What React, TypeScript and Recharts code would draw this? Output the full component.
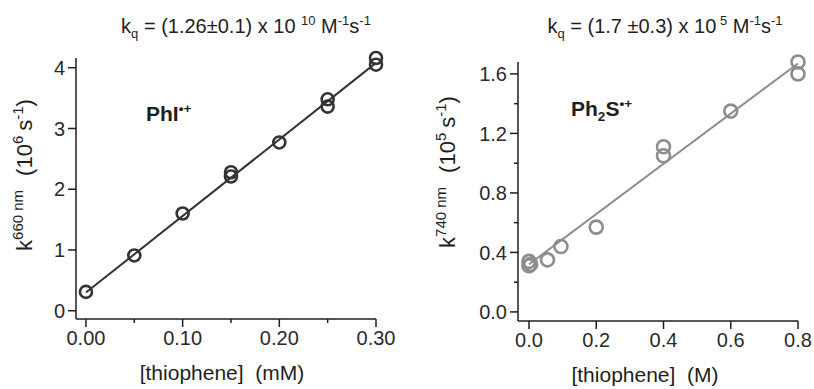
import React from "react";
import { ScatterChart, Scatter, XAxis, YAxis } from "recharts";

// left panel: PhI radical cation, k(660 nm) vs [thiophene] in mM
const phiConc = [0, 0.05, 0.1, 0.15, 0.15, 0.2, 0.25, 0.25, 0.3, 0.3];
const phiRate = [0.31, 0.91, 1.6, 2.21, 2.28, 2.77, 3.36, 3.48, 4.05, 4.16];
const phiFitConc = [0, 0.3];
const phiFitRate = [0.3, 4.08];
const phiXTicks = [0, 0.05, 0.1, 0.15, 0.2, 0.25, 0.3];
const phiXLabelled = [0, 0.1, 0.2, 0.3];
const phiYTicks = [0, 1, 2, 3, 4];

// right panel: Ph2S radical cation, k(740 nm) vs [thiophene] in M
const ph2sConc = [0, 0, 0.005, 0.055, 0.095, 0.2, 0.4, 0.4, 0.6, 0.8, 0.8];
const ph2sRate = [0.34, 0.31, 0.32, 0.35, 0.44, 0.57, 1.11, 1.05, 1.35, 1.68, 1.6];
const ph2sFitConc = [0, 0.8];
const ph2sFitRate = [0.32, 1.67];
const ph2sXTicks = [0, 0.2, 0.4, 0.6, 0.8];
const ph2sYTicks = [0, 0.2, 0.4, 0.6, 0.8, 1.0, 1.2, 1.4, 1.6];
const ph2sYLabelled = [0, 0.4, 0.8, 1.2, 1.6];

const FONT = "'Liberation Sans', Arial, Helvetica, sans-serif";
const INK = "#1e1e1e";
const TICK_SIZE = 8;
const TICK_MARGIN = 3;

const zip = (xs: number[], ys: number[]) => xs.map((x, i) => ({ x, y: ys[i] }));

const has = (list: number[], v: number) => list.some((m) => Math.abs(m - v) < 1e-9);

function makeXTick(labelled: number[], digits: number) {
  return (props: any) => {
    const { x, y, payload } = props;
    const major = has(labelled, payload.value);
    const y0 = y - TICK_SIZE - TICK_MARGIN;
    return (
      <g>
        <line x1={x} x2={x} y1={y0} y2={y0 + (major ? TICK_SIZE : 4)} stroke={INK} strokeWidth={1.5} />
        {major && (
          <text x={x} y={y} dy="0.75em" textAnchor="middle" fontSize={20} fontFamily={FONT} fill="#2a2a2a">
            {payload.value.toFixed(digits)}
          </text>
        )}
      </g>
    );
  };
}

function makeYTick(labelled: number[], digits: number) {
  return (props: any) => {
    const { x, y, payload } = props;
    const major = has(labelled, payload.value);
    const x0 = x + TICK_SIZE + TICK_MARGIN;
    return (
      <g>
        <line x1={x0} x2={x0 - (major ? TICK_SIZE : 4)} y1={y} y2={y} stroke={INK} strokeWidth={1.5} />
        {major && (
          <text x={x} y={y} dy="0.36em" textAnchor="end" fontSize={20} fontFamily={FONT} fill="#2a2a2a">
            {payload.value.toFixed(digits)}
          </text>
        )}
      </g>
    );
  };
}

function ringShape(color: string, r: number) {
  return (props: any) => (
    <circle cx={props.cx} cy={props.cy} r={r} fill="none" stroke={color} strokeWidth={2.6} />
  );
}

const noShape = () => <g />;

function yTitle(wavelength: string, power: string, baseX: number, centerY: number) {
  return () => (
    <text
      x={baseX}
      y={centerY}
      transform={`rotate(-90 ${baseX} ${centerY})`}
      textAnchor="middle"
      fontSize={22}
      fontFamily={FONT}
      fill={INK}
    >
      k
      <tspan fontSize={15} dy={-9}>{wavelength} nm</tspan>
      <tspan dy={9} dx={14}>(10</tspan>
      <tspan fontSize={15} dy={-9}>{power}</tspan>
      <tspan dy={9} dx={5}>s</tspan>
      <tspan fontSize={15} dy={-9}>-1</tspan>
      <tspan dy={9}>)</tspan>
    </text>
  );
}

function xTitle(text: string) {
  return (props: any) => {
    const vb = props.viewBox;
    return (
      <text
        x={vb.x + vb.width / 2 + props.shift}
        y={vb.y + 61}
        textAnchor="middle"
        fontSize={21}
        fontFamily={FONT}
        fill={INK}
        style={{ whiteSpace: "pre" }}
      >
        {text}
      </text>
    );
  };
}

const Sup = ({ children }: { children: React.ReactNode }) => (
  <span style={{ fontSize: "0.65em", position: "relative", top: "-0.6em" }}>{children}</span>
);
const Sub = ({ children }: { children: React.ReactNode }) => (
  <span style={{ fontSize: "0.65em", position: "relative", top: "0.35em" }}>{children}</span>
);

const overlay: React.CSSProperties = {
  position: "absolute",
  fontFamily: FONT,
  color: INK,
  lineHeight: 1,
  whiteSpace: "nowrap",
};

export default function App() {
  const darkLine = "#333333";
  const grey = "#8c8c8c";
  return (
    <div style={{ position: "absolute", left: 0, top: 0, width: 814, height: 389, background: "#fff" }}>
      <div style={{ position: "absolute", left: 0, top: 0 }}>
        <ScatterChart width={410} height={389} margin={{ top: 58, right: 34, bottom: 30, left: 0 }}>
          <XAxis
            type="number"
            dataKey="x"
            domain={[-0.0103, 0.3]}
            ticks={phiXTicks}
            interval={0}
            height={40}
            tickSize={TICK_SIZE}
            tickMargin={TICK_MARGIN}
            tickLine={false}
            tick={makeXTick(phiXLabelled, 2)}
            axisLine={{ stroke: INK, strokeWidth: 1.5 }}
            label={{ content: (p: any) => xTitle("[thiophene]  (mM)")({ ...p, shift: -4 }) }}
          />
          <YAxis
            type="number"
            dataKey="y"
            domain={[-0.136, 4.16]}
            ticks={phiYTicks}
            interval={0}
            width={76}
            tickSize={TICK_SIZE}
            tickMargin={TICK_MARGIN}
            tickLine={false}
            tick={makeYTick(phiYTicks, 0)}
            axisLine={{ stroke: INK, strokeWidth: 1.5 }}
            label={{ content: yTitle("660", "6", 32, 175) }}
          />
          <Scatter
            data={zip(phiFitConc, phiFitRate)}
            line={{ stroke: darkLine, strokeWidth: 2 }}
            shape={noShape}
            isAnimationActive={false}
          />
          <Scatter data={zip(phiConc, phiRate)} shape={ringShape(darkLine, 6)} isAnimationActive={false} />
        </ScatterChart>
      </div>

      <div style={{ position: "absolute", left: 405, top: 0 }}>
        <ScatterChart width={409} height={389} margin={{ top: 62, right: 16, bottom: 28, left: 0 }}>
          <XAxis
            type="number"
            dataKey="x"
            domain={[-0.0327, 0.8]}
            ticks={ph2sXTicks}
            interval={0}
            height={40}
            tickSize={TICK_SIZE}
            tickMargin={TICK_MARGIN}
            tickLine={false}
            tick={makeXTick(ph2sXTicks, 1)}
            axisLine={{ stroke: INK, strokeWidth: 1.5 }}
            label={{ content: (p: any) => xTitle("[thiophene]  (M)")({ ...p, shift: -13 }) }}
          />
          <YAxis
            type="number"
            dataKey="y"
            domain={[-0.061, 1.68]}
            ticks={ph2sYTicks}
            interval={0}
            width={113}
            tickSize={TICK_SIZE}
            tickMargin={TICK_MARGIN}
            tickLine={false}
            tick={makeYTick(ph2sYLabelled, 1)}
            axisLine={{ stroke: INK, strokeWidth: 1.5 }}
            label={{ content: yTitle("740", "5", 50, 172) }}
          />
          <Scatter
            data={zip(ph2sFitConc, ph2sFitRate)}
            line={{ stroke: grey, strokeWidth: 2 }}
            shape={noShape}
            isAnimationActive={false}
          />
          <Scatter data={zip(ph2sConc, ph2sRate)} shape={ringShape(grey, 6.5)} isAnimationActive={false} />
        </ScatterChart>
      </div>

      <div style={{ ...overlay, left: 0, width: 492, top: 16, textAlign: "center", fontSize: 20 }}>
        k<Sub>q</Sub> = (1.26±0.1) x 10 <Sup>10</Sup> M<Sup>-1</Sup>s<Sup>-1</Sup>
      </div>
      <div style={{ ...overlay, left: 405, width: 520, top: 16, textAlign: "center", fontSize: 20 }}>
        k<Sub>q</Sub> = (1.7 ±0.3) x 10<Sup> 5</Sup> M<Sup>-1</Sup>s<Sup>-1</Sup>
      </div>
      <div style={{ ...overlay, left: 146, top: 103, fontSize: 21, fontWeight: "bold" }}>
        PhI<Sup>•+</Sup>
      </div>
      <div style={{ ...overlay, left: 571, top: 98, fontSize: 21, fontWeight: "bold" }}>
        Ph<Sub>2</Sub>S<Sup>•+</Sup>
      </div>
    </div>
  );
}
